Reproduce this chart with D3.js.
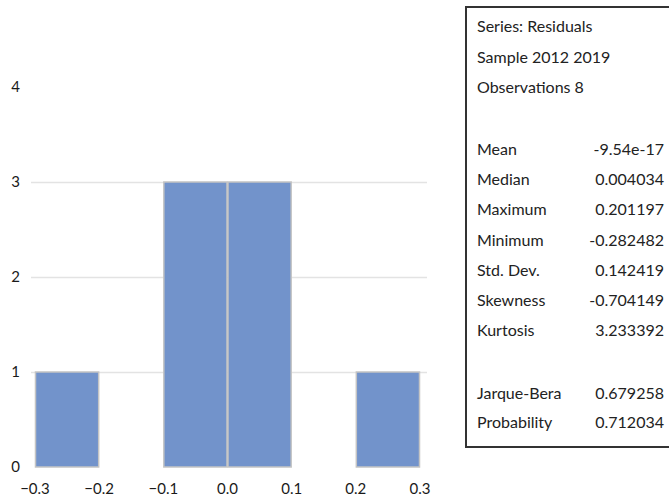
<!DOCTYPE html>
<html><head><meta charset="utf-8">
<script src="https://cdn.jsdelivr.net/npm/d3@7"></script>
<style>
html,body{margin:0;padding:0;background:#fff;}
text{font-family:Lato,"Open Sans",sans-serif;}
</style></head>
<body>
<script>
const binStarts = [-0.3, -0.2, -0.1, 0.0, 0.1, 0.2];
const binWidth = 0.1;
const counts = [1, 0, 3, 3, 0, 1];
const xTicks = [-0.3, -0.2, -0.1, 0.0, 0.1, 0.2, 0.3];
const yTicks = [0, 1, 2, 3, 4];
const headerLines = ["Series: Residuals", "Sample 2012 2019", "Observations 8"];
const statNames = ["Mean", "Median", "Maximum", "Minimum", "Std. Dev.", "Skewness", "Kurtosis"];
const statValues = ["-9.54e-17", "0.004034", "0.201197", "-0.282482", "0.142419", "-0.704149", "3.233392"];
const testNames = ["Jarque-Bera", "Probability"];
const testValues = ["0.679258", "0.712034"];

const W = 669, H = 497;
const svg = d3.select("body").append("svg").attr("width", W).attr("height", H);

const x = d3.scaleLinear().domain([-0.3, 0.3]).range([35, 420]);
const y = d3.scaleLinear().domain([0, 4]).range([467, 87]);

// gridlines
svg.append("g").selectAll("line").data(yTicks.filter(d => d > 0 && d < 4)).join("line")
  .attr("x1", 31).attr("x2", 427)
  .attr("y1", d => y(d) + 0.5).attr("y2", d => y(d) + 0.5)
  .attr("stroke", "#e3e3e3").attr("stroke-width", 1.5);

// bars
svg.append("g").selectAll("rect").data(binStarts.map((s, i) => ({s, c: counts[i]})).filter(d => d.c > 0)).join("rect")
  .attr("x", d => x(d.s) + 0.5)
  .attr("width", d => x(d.s + binWidth) - x(d.s) - 1)
  .attr("y", d => y(d.c))
  .attr("height", d => y(0) - y(d.c))
  .attr("fill", "#7293cb")
  .attr("stroke", "#c4c4c4").attr("stroke-width", 1.5);

// y axis labels
svg.append("g").selectAll("text").data(yTicks).join("text")
  .attr("x", 20).attr("y", d => y(d) + 5)
  .attr("text-anchor", "end").attr("font-size", 15).attr("fill", "#1a1a1a")
  .text(d => d);

// x axis labels
svg.append("g").selectAll("text").data(xTicks).join("text")
  .attr("x", d => x(d)).attr("y", 494)
  .attr("text-anchor", "middle").attr("font-size", 15).attr("fill", "#1a1a1a")
  .text(d => d3.format(".1f")(d));

// stats box
svg.append("rect").attr("x", 466).attr("y", 7).attr("width", 220).attr("height", 440)
  .attr("fill", "#fff").attr("stroke", "#333").attr("stroke-width", 2);

const tx = 477, vx = 664;
const g = svg.append("g").attr("font-size", 16).attr("fill", "#222");
g.selectAll(".h").data(headerLines).join("text").attr("class", "h")
  .attr("x", tx).attr("y", (d, i) => 32 + i * 30.5).text(d => d);
const statY = i => 155 + i * 30.2;
g.selectAll(".sn").data(statNames).join("text").attr("class", "sn")
  .attr("x", tx).attr("y", (d, i) => statY(i)).text(d => d);
g.selectAll(".sv").data(statValues).join("text").attr("class", "sv")
  .attr("x", vx).attr("y", (d, i) => statY(i)).attr("text-anchor", "end").text(d => d);
g.selectAll(".tn").data(testNames).join("text").attr("class", "tn")
  .attr("x", tx).attr("y", (d, i) => 399 + i * 29).text(d => d);
g.selectAll(".tv").data(testValues).join("text").attr("class", "tv")
  .attr("x", vx).attr("y", (d, i) => 399 + i * 29).attr("text-anchor", "end").text(d => d);
</script>
</body></html>
